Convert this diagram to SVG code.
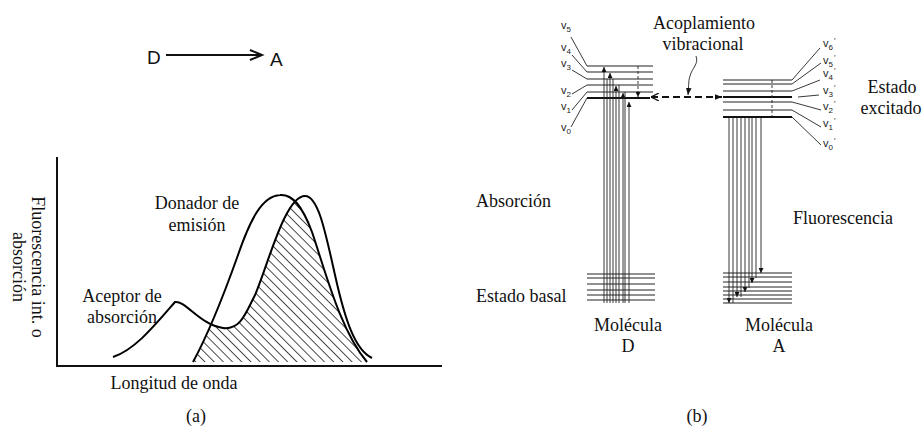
<svg xmlns="http://www.w3.org/2000/svg" width="923" height="429" viewBox="0 0 923 429">
<style>
.serif{font-family:"Liberation Serif","Times New Roman",serif;font-size:18px;fill:#111}
.sans{font-family:"Liberation Sans",Arial,sans-serif;fill:#111}
.vl{font-family:"Liberation Sans",Arial,sans-serif;font-size:11px;fill:#222}
.vs{font-size:8px}
.pr{font-family:"Liberation Sans",Arial,sans-serif;font-size:8px;fill:#222}
.ln{stroke:#111;fill:none}
.thin{stroke:#222;stroke-width:0.9;fill:none}
.lvl{stroke:#222;stroke-width:1.2;fill:none}
.thick{stroke:#111;stroke-width:2;fill:none}
.curve{stroke:#000;stroke-width:2;fill:none}
</style>
<defs>
<pattern id="hatch" width="6.5" height="6.5" patternUnits="userSpaceOnUse" patternTransform="rotate(45)">
<line x1="0" y1="0" x2="6.5" y2="0" stroke="#000" stroke-width="1.4"/>
</pattern>
<clipPath id="accClip">
<path d="M113,357 C135,350 155,325 175,302 C185,300 200,325 223,328 C240,330 245,315 255,295 C268,265 285,196 305,196 C318,196 325,230 335,275 C345,320 355,350 372,358 L372,363 L113,363 Z"/>
</clipPath>
<marker id="arr" viewBox="0 0 6 6" refX="6" refY="3" markerWidth="5" markerHeight="5" orient="auto" markerUnits="userSpaceOnUse">
<path d="M0,0 L6,3 L0,6 Z" fill="#111"/>
</marker>
<marker id="tip" viewBox="0 0 10 10" refX="10" refY="5" markerWidth="8" markerHeight="8" orient="auto-start-reverse" markerUnits="userSpaceOnUse">
<path d="M0,0 L10,5 L0,10" fill="none" stroke="#111" stroke-width="1.6"/>
</marker>
<marker id="tipf" viewBox="0 0 10 10" refX="10" refY="5" markerWidth="7" markerHeight="7" orient="auto" markerUnits="userSpaceOnUse">
<path d="M0,1 L10,5 L0,9 Z" fill="#111"/>
</marker>
</defs>

<!-- Panel (a) -->
<g id="DA">
<text class="sans" x="147" y="64" font-size="19">D</text>
<path class="ln" stroke-width="2" d="M166,55 L261,55"/>
<path class="ln" stroke-width="2" d="M250,50 L262,55 L250,60"/>
<text class="sans" x="270" y="66" font-size="19">A</text>
</g>

<g id="axes">
<path class="ln" stroke-width="2" d="M57,157 L57,366 L442,366"/>
</g>

<g id="ylabel">
<text class="serif" text-anchor="middle" transform="translate(32,267) rotate(90)">Fluorescencia int. o</text>
<text class="serif" text-anchor="middle" transform="translate(13,267) rotate(90)">absorción</text>
</g>

<g id="overlap">
<path clip-path="url(#accClip)" fill="url(#hatch)" d="M193,362 C205,340 222,300 238,255 C250,220 262,196 280,195 C292,194 302,205 312,232 C325,270 340,330 367,362 Z"/>
</g>

<g id="acceptor">
<path class="curve" d="M113,357 C135,350 155,325 175,302 C185,300 200,325 223,328 C240,330 245,315 255,295 C268,265 285,196 305,196 C318,196 325,230 335,275 C345,320 355,350 372,358"/>
<text class="serif" x="122" y="302" text-anchor="middle">Aceptor de</text>
<text class="serif" x="122" y="323" text-anchor="middle">absorción</text>
</g>

<g id="donor">
<path class="curve" d="M193,362 C205,340 222,300 238,255 C250,220 262,196 280,195 C292,194 302,205 312,232 C325,270 340,330 367,362"/>
<text class="serif" x="197" y="209" text-anchor="middle">Donador de</text>
<text class="serif" x="197" y="231" text-anchor="middle">emisión</text>
</g>

<text class="serif" x="174" y="389" text-anchor="middle">Longitud de onda</text>
<text class="serif" x="196" y="422" text-anchor="middle">(a)</text>

<!-- Panel (b) -->
<g id="molD">
<g id="D-excited">
<path class="lvl" d="M587,66 H653 M587,72 H653 M587,85 H653 M587,92 H653"/>
<path class="lvl" stroke-width="1.6" d="M587,79 H653"/>
<path class="thick" d="M587,98 H650"/>
<path class="thin" d="M571,37 L587,66 M572,55 L587,72 M572,70 L587,79 M572,94 L587,85 M572,110 L587,92 M571,127 L587,98"/>
<path class="thin" stroke-dasharray="3,2" marker-end="url(#arr)" d="M638,66 V97"/>
</g>
<g id="D-labels">
<text class="vl" x="561" y="29">v<tspan class="vs" dy="3">5</tspan></text>
<text class="vl" x="561" y="51">v<tspan class="vs" dy="3">4</tspan></text>
<text class="vl" x="561" y="67">v<tspan class="vs" dy="3">3</tspan></text>
<text class="vl" x="561" y="94">v<tspan class="vs" dy="3">2</tspan></text>
<text class="vl" x="561" y="110">v<tspan class="vs" dy="3">1</tspan></text>
<text class="vl" x="561" y="131">v<tspan class="vs" dy="3">0</tspan></text>
</g>
<g id="D-absorption">
<path class="thin" marker-end="url(#arr)" d="M604,303 V67"/>
<path class="thin" d="M607,303 V79"/>
<path class="thin" marker-end="url(#arr)" d="M610,303 V73"/>
<path class="thin" d="M613,303 V79"/>
<path class="thin" marker-end="url(#arr)" d="M616,303 V86"/>
<path class="thin" d="M619,303 V85"/>
<path class="thin" marker-end="url(#arr)" d="M623,303 V93"/>
<path class="thin" d="M625,303 V92"/>
<path class="thin" marker-end="url(#arr)" d="M629,303 V102"/>
</g>
<g id="D-ground">
<path class="lvl" d="M587,274 H655 M587,278 H655 M587,284 H655 M587,290 H655 M587,295 H655 M587,300 H655"/>
</g>
<text class="serif" x="628" y="331" text-anchor="middle">Molécula</text>
<text class="serif" x="628" y="352" text-anchor="middle">D</text>
</g>

<g id="molA">
<g id="A-excited">
<path class="lvl" d="M723,80 H792 M723,84 H792 M723,91 H792 M723,102 H792 M723,110 H792"/>
<path class="thick" d="M723,97 H792 M723,117 H792"/>
<path class="thin" d="M792,80 L820,48 M792,84 L821,63 M792,91 L820,80 M798,97 L819,95 M792,102 L821,110 M792,110 L821,127 M792,117 L821,145"/>
<path class="thin" stroke-dasharray="3,2" d="M772,80 V117"/>
</g>
<g id="A-labels">
<text class="vl" x="823" y="47">v<tspan class="vs" dy="3">6</tspan></text>
<text class="vl" x="823" y="64">v<tspan class="vs" dy="3">5</tspan></text>
<text class="vl" x="823" y="77">v<tspan class="vs" dy="3">4</tspan></text>
<text class="vl" x="823" y="94">v<tspan class="vs" dy="3">3</tspan></text>
<text class="vl" x="823" y="110">v<tspan class="vs" dy="3">2</tspan></text>
<text class="vl" x="823" y="127">v<tspan class="vs" dy="3">1</tspan></text>
<text class="vl" x="823" y="147">v<tspan class="vs" dy="3">0</tspan></text>
<text class="pr" x="834" y="43">′</text>
<text class="pr" x="834" y="60">′</text>
<text class="pr" x="834" y="73">′</text>
<text class="pr" x="834" y="90">′</text>
<text class="pr" x="834" y="106">′</text>
<text class="pr" x="834" y="123">′</text>
<text class="pr" x="834" y="143">′</text>
</g>
<g id="A-fluorescence">
<path class="thin" marker-end="url(#arr)" d="M729,118 V303"/>
<path class="thin" d="M733,118 V303"/>
<path class="thin" marker-end="url(#arr)" d="M737,118 V297"/>
<path class="thin" d="M741,118 V297"/>
<path class="thin" marker-end="url(#arr)" d="M745,118 V292"/>
<path class="thin" d="M749,118 V288"/>
<path class="thin" marker-end="url(#arr)" d="M752,118 V283"/>
<path class="thin" d="M756,118 V278"/>
<path class="thin" marker-end="url(#arr)" d="M761,118 V273"/>
</g>
<g id="A-ground">
<path class="lvl" d="M723,273 H792 M723,277 H792 M723,282 H792 M723,287 H792 M723,291 H792 M723,295 H792 M723,299 H792 M723,303 H792"/>
</g>
<text class="serif" x="779" y="331" text-anchor="middle">Molécula</text>
<text class="serif" x="779" y="352" text-anchor="middle">A</text>
</g>

<g id="connectors">
<path class="thick" stroke-dasharray="7,4" marker-start="url(#tip)" marker-end="url(#tipf)" d="M651,97 H722"/>
<path class="thin" stroke-width="1.1" marker-end="url(#tipf)" d="M696,56 C699,64 692,68 690,76 C688,82 689,86 688,95"/>
</g>

<g id="labels-b">
<text class="serif" x="704" y="29" text-anchor="middle">Acoplamiento</text>
<text class="serif" x="703" y="50" text-anchor="middle">vibracional</text>
<text class="serif" x="892" y="93" text-anchor="middle">Estado</text>
<text class="serif" x="891" y="114" text-anchor="middle">excitado</text>
<text class="serif" x="476" y="207">Absorción</text>
<text class="serif" x="793" y="224">Fluorescencia</text>
<text class="serif" x="476" y="302">Estado basal</text>
<text class="serif" x="697" y="422" text-anchor="middle">(b)</text>
</g>
</svg>
